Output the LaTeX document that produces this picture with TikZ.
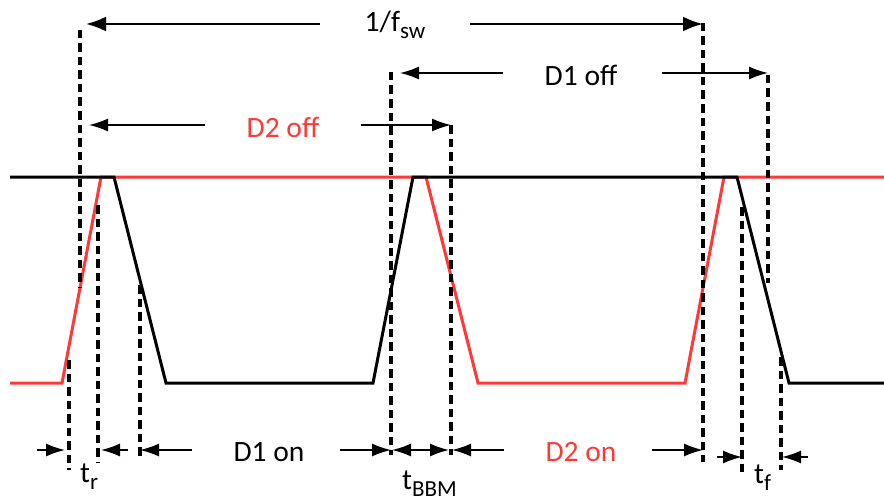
\documentclass[tikz,border=0pt]{standalone}
\usepackage{fontspec}
\setmainfont{Carlito}
\usetikzlibrary{arrows.meta}
\definecolor{wred}{RGB}{255,56,56}
\newcommand\lowsub[1]{\raisebox{-7pt}{\fontsize{23}{27}\selectfont #1}}
\begin{document}
\begin{tikzpicture}[x=1pt,y=-1pt,
  wave/.style={line width=3pt, line join=miter},
  vdash/.style={line width=3.2pt, dash pattern=on 8.5pt off 5pt},
  dim/.style={line width=1.5pt, -{Latex[length=19pt,width=13pt]}},
  dimboth/.style={line width=1.5pt, {Latex[length=19pt,width=13pt]}-{Latex[length=19pt,width=13pt]}},
  dimthick/.style={line width=2.4pt, -{Latex[length=20pt,width=15pt]}},
  lbl/.style={font=\fontsize{29.5}{34}\selectfont, inner sep=0pt, anchor=base},
]
\useasboundingbox (0,0) rectangle (884,503);

% waveforms
\draw[wave, wred] (10,383) -- (62,383) -- (101,177) -- (426,177) -- (478,383)
  -- (685,383) -- (724,177) -- (884,177);
\draw[wave] (10,177) -- (114,177) -- (166,383) -- (373,383) -- (413,177)
  -- (737,177) -- (789,383) -- (884,383);

% dashed vertical lines
\coordinate (v1t) at (80,30);   \coordinate (v1b) at (80,287);
\coordinate (v2t) at (69,360);  \coordinate (v2b) at (69,470);
\coordinate (v3t) at (98,205);  \coordinate (v3b) at (98,462);
\coordinate (v4t) at (140,285); \coordinate (v4b) at (140,458);
\coordinate (v5t) at (391,72);  \coordinate (v5b) at (391,455);
\coordinate (v6t) at (451,125); \coordinate (v6b) at (451,455);
\coordinate (v7t) at (703,23);  \coordinate (v7b) at (703,462);
\coordinate (v8t) at (742,207); \coordinate (v8b) at (742,473);
\coordinate (v9t) at (768,75);  \coordinate (v9b) at (768,283);
\coordinate (v10t) at (781,357); \coordinate (v10b) at (781,470);
\foreach \i in {1,...,10} \draw[vdash] (v\i t) -- (v\i b);

% labels
\node[lbl] (fsw) at (395,32) {1/f\lowsub{sw}};
\node[lbl] (d1off) at (581,85) {D1 off};
\node[lbl, text=wred] (d2off) at (283,137) {D2 off};
\node[lbl] (d1on) at (269,461) {D1 on};
\node[lbl, text=wred] (d2on) at (581,461) {D2 on};
\node[lbl, anchor=base west] (tr) at (80,482) {t\lowsub{r}};
\node[lbl, anchor=base west] (tbbm) at (402,489) {t\lowsub{BBM}};
\node[lbl, anchor=base west] (tf) at (754,483) {t\lowsub{f}};

% arrow coordinates
\coordinate (a1s) at (320,24);  \coordinate (a1e) at (86,24);
\coordinate (a2s) at (470,24);  \coordinate (a2e) at (703,24);
\coordinate (a3s) at (503,73);  \coordinate (a3e) at (400,73);
\coordinate (a4s) at (662,73);  \coordinate (a4e) at (768,73);
\coordinate (a5s) at (205,125); \coordinate (a5e) at (89,125);
\coordinate (a6s) at (361,125); \coordinate (a6e) at (451,125);
\coordinate (b1s) at (37,450);  \coordinate (b1e) at (65,450);
\coordinate (b2s) at (128,450); \coordinate (b2e) at (101,450);
\coordinate (b3s) at (192,450); \coordinate (b3e) at (140,450);
\coordinate (b4s) at (340,450); \coordinate (b4e) at (391,450);
\coordinate (b5s) at (392,450); \coordinate (b5e) at (449,450);
\coordinate (b6s) at (504,450); \coordinate (b6e) at (452,450);
\coordinate (b7s) at (652,450); \coordinate (b7e) at (703,450);
\coordinate (b8s) at (717,457); \coordinate (b8e) at (742,457);
\coordinate (b9s) at (808,457); \coordinate (b9e) at (782,457);

\draw[dimthick] (a1s) -- (a1e);
\draw[dimthick] (a2s) -- (a2e);
\draw[dim] (a3s) -- (a3e);
\draw[dim] (a4s) -- (a4e);
\draw[dim] (a5s) -- (a5e);
\draw[dim] (a6s) -- (a6e);
\draw[dim] (b1s) -- (b1e);
\draw[dim] (b2s) -- (b2e);
\draw[dim] (b3s) -- (b3e);
\draw[dim] (b4s) -- (b4e);
\draw[dimboth] (b5s) -- (b5e);
\draw[dim] (b6s) -- (b6e);
\draw[dim] (b7s) -- (b7e);
\draw[dim] (b8s) -- (b8e);
\draw[dim] (b9s) -- (b9e);
\end{tikzpicture}
\end{document}
